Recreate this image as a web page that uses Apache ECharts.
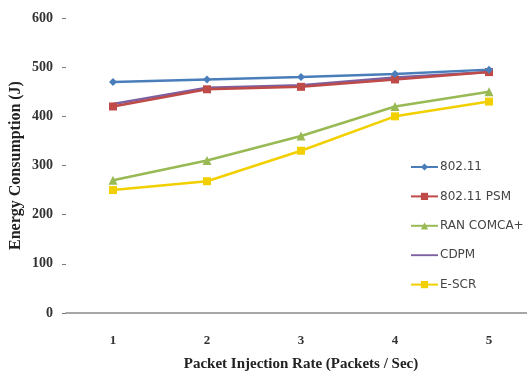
<!DOCTYPE html>
<html>
<head>
<meta charset="utf-8">
<script src="https://cdn.jsdelivr.net/npm/echarts@6/dist/echarts.min.js"></script>
<style>
  html, body { margin: 0; padding: 0; background: #fff; }
  #chart { width: 527px; height: 374px; }
</style>
</head>
<body>
<div id="chart"></div>
<script>
// Packet injection rate (packets/sec) on the x axis
const rates = ['1', '2', '3', '4', '5'];

// Energy consumption (J) per protocol
const ieee80211 = [470, 475, 480, 486, 495];
const ieee80211psm = [420, 455, 460, 475, 490];
const randcomca = [270, 310, 360, 420, 450];
const cdpm = [425, 458, 463, 479, 490];
const escr = [250, 268, 330, 400, 430];

const seriesNames = ['802.11', '802.11 PSM', 'RAN COMCA+', 'CDPM', 'E-SCR'];
const seriesColors = ['#4a7ebb', '#be4b48', '#98b954', '#7d60a0', '#f2d000'];
const seriesSymbols = ['diamond', 'rect', 'triangle', 'none', 'rect'];

// plain line swatch (no marker) for the series drawn without symbols
const plainLineIcon = 'path://M0,0L0,0M0,3.75h36v2.5h-36zM36,10L36,10';

const chart = echarts.init(document.getElementById('chart'));

const serif = '"Liberation Serif", "DejaVu Serif", serif';
const sans = '"DejaVu Sans", sans-serif';

function makeSeries(name, data, color, symbol, z) {
  return {
    name: name,
    type: 'line',
    data: data,
    z: z,
    symbol: symbol,
    symbolSize: symbol === 'triangle' ? 9 : 8,
    showSymbol: symbol !== 'none',
    lineStyle: { color: color, width: 2.5 },
    itemStyle: { color: color },
    emphasis: { disabled: true }
  };
}

const legendItems = seriesNames.map(function (n, i) {
  return seriesSymbols[i] === 'none' ? { name: n, icon: plainLineIcon } : { name: n };
});

chart.setOption({
  backgroundColor: '#ffffff',
  animation: false,
  grid: { left: 66, right: -9, top: 18, bottom: 61, outerBoundsMode: 'none', containLabel: false },
  legend: {
    orient: 'vertical',
    left: 405,
    top: 155,
    itemWidth: 27,
    itemHeight: 9,
    itemGap: 15.4,
    data: legendItems,
    textStyle: { fontFamily: sans, fontSize: 12, lineHeight: 14, color: '#444', padding: [0, 0, 0, -3] }
  },
  xAxis: {
    type: 'category',
    data: rates,
    boundaryGap: true,
    name: 'Packet Injection Rate (Packets / Sec)',
    nameLocation: 'middle',
    nameGap: 44,
    nameMoveOverlap: false,
    nameTextStyle: { fontFamily: serif, fontSize: 15, fontWeight: 'bold', color: '#222' },
    axisLine: { show: true, lineStyle: { color: '#8a8a8a', width: 1.5 } },
    axisTick: { show: false },
    axisLabel: { fontFamily: serif, fontSize: 13, fontWeight: 'bold', color: '#333', margin: 21 },
    splitLine: { show: false }
  },
  yAxis: {
    type: 'value',
    min: 0,
    max: 600,
    interval: 100,
    name: 'Energy Consumption (J)',
    nameLocation: 'middle',
    nameGap: 42,
    nameMoveOverlap: false,
    nameRotate: 90,
    nameTextStyle: { fontFamily: serif, fontSize: 16, fontWeight: 'bold', color: '#222' },
    axisLine: { show: false },
    axisTick: { show: true, length: 4, lineStyle: { color: '#777' } },
    axisLabel: { fontFamily: serif, fontSize: 14, fontWeight: 'bold', color: '#333', margin: 13 },
    splitLine: { show: false }
  },
  series: [
    makeSeries(seriesNames[0], ieee80211, seriesColors[0], seriesSymbols[0], 5),
    makeSeries(seriesNames[1], ieee80211psm, seriesColors[1], seriesSymbols[1], 4),
    makeSeries(seriesNames[2], randcomca, seriesColors[2], seriesSymbols[2], 3),
    makeSeries(seriesNames[3], cdpm, seriesColors[3], seriesSymbols[3], 3),
    makeSeries(seriesNames[4], escr, seriesColors[4], seriesSymbols[4], 2)
  ]
});
</script>
</body>
</html>
